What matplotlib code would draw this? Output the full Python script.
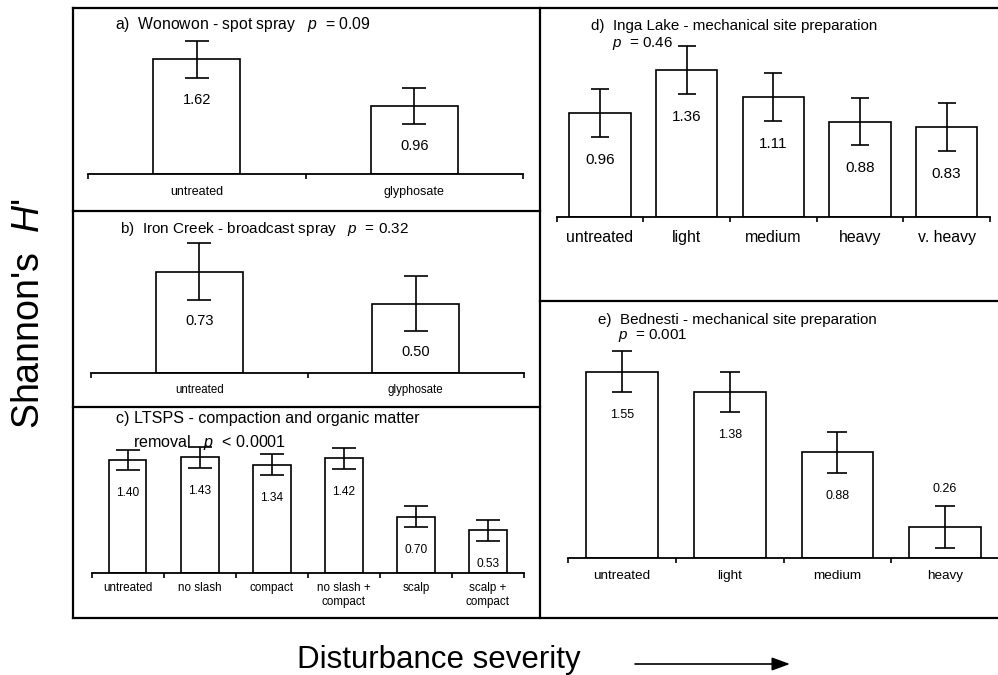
import matplotlib
matplotlib.use('Agg')
import matplotlib.pyplot as plt
from matplotlib.lines import Line2D
from matplotlib.patches import FancyArrowPatch

plt.rcParams['font.family'] = ['Liberation Sans', 'DejaVu Sans']
plt.rcParams['mathtext.fontset'] = 'custom'
plt.rcParams['mathtext.rm'] = 'Liberation Sans'
plt.rcParams['mathtext.it'] = 'Liberation Sans:italic'

# ---------------- data ----------------
a_cats = ['untreated', 'glyphosate']
a_vals = [1.62, 0.96]
a_errs = [0.26, 0.26]

b_cats = ['untreated', 'glyphosate']
b_vals = [0.73, 0.50]
b_errs = [0.205, 0.20]

c_cats = ['untreated', 'no slash', 'compact', 'no slash +\ncompact', 'scalp', 'scalp +\ncompact']
c_vals = [1.40, 1.43, 1.34, 1.42, 0.70, 0.53]
c_errs = [0.12, 0.13, 0.13, 0.13, 0.125, 0.13]

d_cats = ['untreated', 'light', 'medium', 'heavy', 'v. heavy']
d_vals = [0.96, 1.36, 1.11, 0.88, 0.83]
d_errs = [0.22, 0.22, 0.22, 0.22, 0.22]

e_cats = ['untreated', 'light', 'medium', 'heavy']
e_vals = [1.55, 1.38, 0.88, 0.26]
e_errs = [0.17, 0.17, 0.17, 0.175]

# ---------------- layout helpers ----------------
W, H = 998, 675
fig = plt.figure(figsize=(W / 100, H / 100), dpi=100)
fig.patch.set_facecolor('white')


def fx(px):
    return px / W


def fy(py):
    return 1 - py / H


def panel(cats, vals, errs, x0, x1, base, top, scale, width,
          tick_fs, tick_pad, val_fs, lab_off, cap):
    ax = fig.add_axes([fx(x0), fy(base), (x1 - x0) / W, (base - top) / H])
    n = len(cats)
    ax.set_xlim(-0.5, n - 0.5)
    ax.set_ylim(0, (base - top) / scale)
    ax.patch.set_alpha(0)
    for s in ['top', 'right', 'left']:
        ax.spines[s].set_visible(False)
    ax.spines['bottom'].set_linewidth(1.3)
    xs = list(range(n))
    ax.bar(xs, vals, width=width, color='white', edgecolor='black',
           linewidth=1.2, zorder=2)
    ax.errorbar(xs, vals, yerr=errs, fmt='none', ecolor='black',
                elinewidth=1.2, capsize=cap, capthick=1.2, zorder=3)
    ax.set_xticks(xs)
    ax.set_xticklabels(cats, fontsize=tick_fs, linespacing=1.15)
    ax.tick_params(axis='x', which='major', length=0, pad=tick_pad)
    ax.set_xticks([i - 0.5 for i in range(n + 1)], minor=True)
    ax.tick_params(axis='x', which='minor', direction='out', length=3.5, width=1.2)
    ax.set_yticks([])
    for i, (v, e) in enumerate(zip(vals, errs)):
        lo = (v - e) * scale
        if lo < 20:
            y = v + e + 17 / scale
        else:
            y = v - e - lab_off / scale
        ax.text(i, y, f'{v:.2f}', ha='center', va='center', fontsize=val_fs, zorder=4)
    return ax


# panels
panel(a_cats, a_vals, a_errs, 88, 523, 174, 30, 70.8, 0.40, 9, 8.5, 10.5, 22, 8.4)
panel(b_cats, b_vals, b_errs, 91, 524, 372.7, 235, 138.2, 0.40, 8.3, 8, 10.5, 21, 8.4)
panel(c_cats, c_vals, c_errs, 91.7, 524, 573.3, 440, 81, 0.52, 8.4, 6.5, 8.6, 23, 8.4)
panel(d_cats, d_vals, d_errs, 556.7, 990, 216.7, 45, 108, 0.71, 11.4, 9.5, 11, 23, 6.5)
panel(e_cats, e_vals, e_errs, 568.3, 999, 558.3, 345, 120.5, 0.666, 9.7, 8.5, 9, 23, 7.5)

# panel titles
def ftext(x, y, s, fs, **kw):
    fig.text(fx(x), fy(y), s, fontsize=fs, ha='left', va='center', **kw)

ftext(115, 25, r'a)  Wonowon - spot spray   $\mathit{p}$  = 0.09', 11.3)
ftext(120, 229, r'b)  Iron Creek - broadcast spray   $\mathit{p}$  = 0.32', 11)
ftext(115.7, 418, 'c) LTSPS - compaction and organic matter', 11.6)
ftext(133, 443, r'removal   $\mathit{p}$  < 0.0001', 11.6)
ftext(590.7, 26, 'd)  Inga Lake - mechanical site preparation', 10.9)
ftext(611.7, 43, r'$\mathit{p}$  = 0.46', 10.9)
ftext(597.7, 320, 'e)  Bednesti - mechanical site preparation', 10.9)
ftext(618, 336, r'$\mathit{p}$  = 0.001', 10.9)

# panel borders
LW = 1.6
borders = [
    ((73, 8), (998, 8)),
    ((73, 618), (998, 618)),
    ((73, 8), (73, 618)),
    ((540, 8), (540, 618)),
    ((73, 211), (540, 211)),
    ((73, 407), (540, 407)),
    ((540, 301), (998, 301)),
]
for (x0, y0), (x1, y1) in borders:
    fig.add_artist(Line2D([fx(x0), fx(x1)], [fy(y0), fy(y1)],
                          color='black', lw=LW, solid_capstyle='projecting'))

# axis titles
fig.text(fx(29), fy(313), r"Shannon's  $\mathit{H}$'", rotation=90,
         ha='center', va='center', fontsize=27)
fig.text(fx(438.5), fy(668), 'Disturbance severity', ha='center',
         va='baseline', fontsize=22.5)
fig.add_artist(FancyArrowPatch((fx(635), fy(664)), (fx(790), fy(664)),
                               transform=fig.transFigure,
                               arrowstyle='-|>,head_length=1.1,head_width=0.4',
                               mutation_scale=10, lw=1.2, color='black',
                               shrinkA=0, shrinkB=0))

fig.savefig('out.png', dpi=100, facecolor='white')
